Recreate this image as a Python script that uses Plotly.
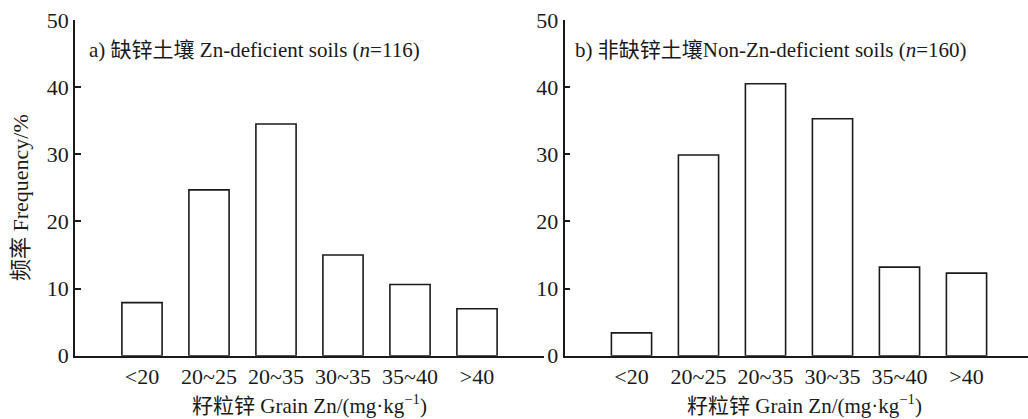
import plotly.graph_objects as go

# Grain Zn frequency distributions for two soil groups
categories = ["<20", "20~25", "20~35", "30~35", "35~40", ">40"]
zn_deficient = [7.9, 24.7, 34.5, 15.0, 10.6, 7.0]
non_zn_deficient = [3.4, 29.9, 40.5, 35.3, 13.2, 12.3]
y_ticks = [0, 10, 20, 30, 40, 50]

W, H = 1028, 419
FONT = "Liberation Serif, Noto Sans CJK SC"
INK = "#1a1a1a"


def px(x):
    return x / W


def py(y):
    return 1 - y / H


fig = go.Figure()
bar_style = dict(marker=dict(color="white", line=dict(color=INK, width=1.6)),
                 showlegend=False, hoverinfo="x+y")
fig.add_trace(go.Bar(x=categories, y=zn_deficient, xaxis="x", yaxis="y", **bar_style))
fig.add_trace(go.Bar(x=categories, y=non_zn_deficient, xaxis="x2", yaxis="y2", **bar_style))

ydom = [py(355.7), py(20)]
tick_font = dict(family=FONT, size=22, color=INK)
x_common = dict(type="category", showline=True, linecolor=INK, linewidth=1.5,
                ticks="", showgrid=False, zeroline=False, automargin=False,
                tickfont=tick_font)
y_common = dict(range=[0, 50], tickvals=y_ticks, showline=True, linecolor=INK,
                linewidth=1.5, ticks="inside", ticklen=6, tickwidth=1.5,
                tickcolor=INK, showgrid=False, zeroline=False, automargin=False,
                tickfont=tick_font)

fig.update_layout(
    template="none",
    width=W, height=H,
    margin=dict(l=0, r=0, t=0, b=0, autoexpand=False),
    paper_bgcolor="white", plot_bgcolor="white",
    font=dict(family=FONT, color=INK),
    bargap=0.4,
    xaxis=dict(domain=[px(75), px(544)], range=[-1, 6], anchor="y", **x_common),
    yaxis=dict(domain=ydom, anchor="x", **y_common),
    xaxis2=dict(domain=[px(564.5), 1.0], range=[-1, -1 + (W - 564.5) / 67.0],
                anchor="y2", **x_common),
    yaxis2=dict(domain=ydom, anchor="x2", **y_common),
)

annotations = [
    dict(text="a) 缺锌土壤 Zn-deficient soils (<i>n</i>=116)", x=px(87), y=py(50),
         xanchor="left", yanchor="middle", size=21),
    dict(text="b) 非缺锌土壤Non-Zn-deficient soils (<i>n</i>=160)", x=px(573), y=py(50),
         xanchor="left", yanchor="middle", size=21),
    dict(text="籽粒锌 Grain Zn/(mg·kg<sup>−1</sup>)", x=px(309), y=py(404),
         xanchor="center", yanchor="middle", size=21),
    dict(text="籽粒锌 Grain Zn/(mg·kg<sup>−1</sup>)", x=px(804), y=py(404),
         xanchor="center", yanchor="middle", size=21),
    dict(text="频率 Frequency/%", x=px(20), y=py(198), textangle=-90,
         xanchor="center", yanchor="middle", size=22),
]
for a in annotations:
    size = a.pop("size")
    fig.add_annotation(xref="paper", yref="paper", showarrow=False,
                       font=dict(family=FONT, size=size, color=INK), **a)

fig.write_html("out.html")
